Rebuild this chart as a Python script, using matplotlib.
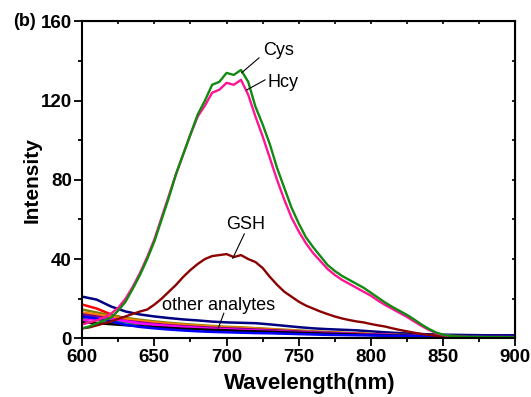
import matplotlib
matplotlib.use("Agg")
import matplotlib.pyplot as plt
import numpy as np

plt.rcParams['font.family'] = ['Liberation Sans', 'DejaVu Sans']

# ---------------- data ----------------
wl5 = list(range(600, 901, 5))
cys = [5.0, 6.0, 7.5, 9.0, 10.5, 14.0, 18.5, 25.0, 32.0, 40.0,
       49.0, 60.0, 71.0, 83.0, 93.0, 103.0, 113.0, 120.0, 128.0, 129.5,
       134.0, 133.0, 135.5, 129.5, 117.0, 108.0, 98.0, 86.0, 76.0, 66.0,
       58.0, 51.0, 46.0, 41.5, 37.0, 34.0, 31.5, 29.5, 27.5, 25.5,
       23.0, 20.5, 18.0, 15.8, 13.8, 11.8, 9.5, 7.0, 4.8, 3.0,
       1.8, 1.2, 0.9, 0.8, 0.7, 0.7, 0.6, 0.6, 0.6, 0.5, 0.5]
hcy = [7.0, 8.0, 9.0, 10.5, 12.5, 15.5, 20.0, 26.0, 33.0, 41.0,
       50.0, 61.0, 72.0, 83.0, 93.0, 103.0, 112.0, 117.5, 124.0, 125.5,
       129.0, 128.0, 130.5, 123.0, 112.0, 102.0, 91.0, 80.0, 70.0, 61.0,
       54.0, 48.0, 43.0, 39.0, 35.0, 32.0, 29.5, 27.5, 25.5, 23.5,
       21.5, 19.0, 16.8, 14.8, 12.8, 10.8, 8.5, 6.3, 4.3, 2.7,
       1.6, 1.1, 0.8, 0.7, 0.6, 0.6, 0.5, 0.5, 0.5, 0.5, 0.5]
gsh = [5.0, 5.5, 6.5, 7.5, 8.5, 9.8, 11.0, 12.3, 13.5, 14.5,
       17.0, 20.0, 23.5, 27.0, 31.0, 34.5, 37.5, 40.0, 41.5, 42.0,
       42.5, 41.0, 42.0, 40.0, 38.5, 35.5, 31.0, 27.0, 23.5, 21.0,
       18.5, 16.5, 15.0, 13.5, 12.2, 11.0, 10.0, 9.2, 8.5, 8.0,
       7.2, 6.5, 5.9, 5.0, 4.2, 3.5, 2.8, 2.2, 1.7, 1.3,
       1.0, 0.8, 0.7, 0.6, 0.6, 0.5, 0.5, 0.5, 0.5, 0.5, 0.5]

wl10 = list(range(600, 901, 10))
other_navy = [21.0, 19.5, 16.0, 13.5, 12.0, 11.0, 10.2, 9.5, 9.0, 8.4, 8.0, 7.8, 7.6, 7.0, 6.3, 5.6,
              5.0, 4.6, 4.3, 4.0, 3.5, 3.0, 2.6, 2.2, 2.0, 1.8, 1.7, 1.6, 1.5, 1.5, 1.5]
other_red = [17.0, 15.0, 12.0, 9.8, 8.3, 7.3, 6.6, 6.0, 5.5, 5.0, 4.6, 4.3, 4.0, 3.7, 3.4, 3.0,
             2.7, 2.4, 2.2, 2.0, 1.8, 1.6, 1.4, 1.2, 1.0, 0.9, 0.9, 0.8, 0.8, 0.8, 0.8]
other_olive = [14.5, 13.0, 11.5, 10.3, 9.3, 8.5, 7.8, 7.2, 6.7, 6.2, 5.8, 5.5, 5.1, 4.7, 4.3, 3.9,
               3.5, 3.1, 2.8, 2.5, 2.2, 1.9, 1.7, 1.5, 1.3, 1.2, 1.1, 1.0, 1.0, 1.0, 1.0]
other_orange = [13.0, 12.0, 10.8, 9.7, 8.8, 8.0, 7.3, 6.8, 6.3, 5.9, 5.5, 5.2, 4.9, 4.5, 4.1, 3.7,
                3.3, 3.0, 2.7, 2.4, 2.1, 1.8, 1.6, 1.4, 1.2, 1.1, 1.0, 0.9, 0.9, 0.9, 0.9]
other_purple = [12.0, 11.0, 9.8, 8.8, 8.0, 7.2, 6.6, 6.1, 5.7, 5.3, 5.0, 4.7, 4.4, 4.1, 3.8, 3.4,
                3.1, 2.8, 2.5, 2.2, 2.0, 1.8, 1.6, 1.4, 1.2, 1.1, 1.0, 0.9, 0.9, 0.8, 0.8]
other_teal = [10.0, 9.5, 8.8, 8.0, 7.3, 6.6, 6.0, 5.5, 5.0, 4.6, 4.3, 4.0, 3.7, 3.4, 3.1, 2.8,
              2.6, 2.3, 2.1, 1.9, 1.7, 1.5, 1.3, 1.2, 1.1, 1.0, 0.9, 0.9, 0.8, 0.8, 0.8]
other_magenta = [9.0, 10.0, 10.0, 8.6, 7.5, 6.8, 6.2, 5.7, 5.2, 4.8, 4.5, 4.2, 3.9, 3.6, 3.3, 3.0,
                 2.7, 2.5, 2.3, 2.1, 1.9, 1.7, 1.5, 1.3, 1.2, 1.1, 1.0, 0.9, 0.9, 0.9, 0.9]
other_black = [8.0, 7.6, 7.1, 6.6, 6.1, 5.6, 5.2, 4.8, 4.5, 4.2, 4.0, 3.7, 3.5, 3.3, 3.0, 2.8,
               2.5, 2.3, 2.1, 1.9, 1.7, 1.5, 1.4, 1.2, 1.1, 1.0, 0.9, 0.8, 0.8, 0.8, 0.8]
other_blue = [11.0, 10.0, 8.5, 6.8, 5.7, 5.0, 4.4, 3.9, 3.5, 3.2, 3.0, 2.8, 2.6, 2.5, 2.3, 2.1,
              1.9, 1.7, 1.6, 1.5, 1.4, 1.3, 1.2, 1.1, 1.0, 0.9, 0.8, 0.8, 0.7, 0.7, 0.7]

others = [
    (other_navy, '#000080'),
    (other_red, '#FF0000'),
    (other_olive, '#808000'),
    (other_orange, '#FF8000'),
    (other_purple, '#800080'),
    (other_teal, '#008080'),
    (other_magenta, '#FF00FF'),
    (other_black, '#000000'),
    (other_blue, '#0000FF'),
]

x_ticks = [600, 650, 700, 750, 800, 850, 900]
y_ticks = [0, 40, 80, 120, 160]

# ---------------- figure ----------------
fig = plt.figure(figsize=(5.31, 3.97), dpi=100)
ax = fig.add_axes([0.155, 0.148, 0.815, 0.798])

for vals, col in others:
    ax.plot(wl10, vals, color=col, lw=1.8)
ax.plot(wl5, gsh, color='#8B0000', lw=1.7)
ax.plot(wl5, hcy, color='#FF1493', lw=1.7)
ax.plot(wl5, cys, color='#108A10', lw=1.7)

ax.set_xlim(600, 900)
ax.set_ylim(0, 160)
ax.set_xticks(x_ticks)
ax.set_xticks([625, 675, 725, 775, 825, 875], minor=True)
ax.set_yticks(y_ticks)
ax.set_yticks([20, 60, 100, 140], minor=True)

for s in ax.spines.values():
    s.set_linewidth(1.5)

ax.tick_params(axis='both', which='major', direction='out', length=5.5, width=1.3,
               labelsize=13.5, pad=2)
ax.tick_params(axis='both', which='minor', direction='out', length=3, width=1.3)
for lab in ax.get_xticklabels() + ax.get_yticklabels():
    lab.set_fontweight('bold')

# mirrored inward ticks on top and right
top = ax.secondary_xaxis('top')
top.set_xticks(list(range(600, 901, 25)))
top.tick_params(direction='in', length=2.5, width=1.2, labeltop=False)
top.set_xticklabels([])
right = ax.secondary_yaxis('right')
right.set_yticks(list(range(0, 161, 20)))
right.tick_params(direction='in', length=2.5, width=1.2, labelright=False)
right.set_yticklabels([])

ax.set_xlabel('Wavelength(nm)', fontsize=16, fontweight='bold')
ax.xaxis.set_label_coords(0.526, -0.11)
ax.set_ylabel('Intensity', fontsize=15, fontweight='bold')
ax.yaxis.set_label_coords(-0.093, 0.5)

# annotations
fs = 13
ax.text(725.1, 143.1, 'Cys', fontsize=fs, ha='left', va='baseline')
ax.plot([722.5, 710.5], [141.6, 134.1], color='black', lw=0.8)
ax.text(728.1, 126.9, 'Hcy', fontsize=fs, ha='left', va='baseline')
ax.plot([726.7, 714.0], [130.5, 125.4], color='black', lw=0.8)
ax.text(699.4, 55.2, 'GSH', fontsize=fs, ha='left', va='baseline')
ax.plot([712.3, 704.3], [52.7, 40.4], color='black', lw=0.8)
ax.text(655.5, 14.5, 'other analytes', fontsize=fs, ha='left', va='baseline')
ax.plot([698.1, 694.2], [12.6, 5.0], color='black', lw=0.8)

fig.text(12.7 / 531, 1 - 21 / 397, '(b)', fontsize=13, fontweight='bold',
         ha='left', va='center')

fig.savefig('out.png', dpi=100)
